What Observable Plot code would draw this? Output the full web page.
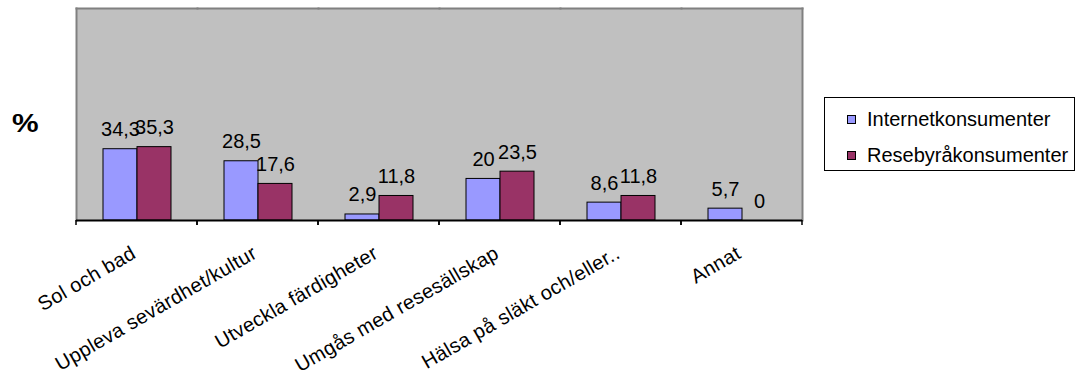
<!DOCTYPE html>
<html>
<head>
<meta charset="utf-8">
<script src="https://cdn.jsdelivr.net/npm/d3@7"></script>
<script src="https://cdn.jsdelivr.net/npm/@observablehq/plot@0.6"></script>
<style>
  body { margin: 0; background: #fff; font-family: "Liberation Sans", Arial, sans-serif; }
  #chart { position: relative; width: 1076px; height: 375px; }
  #ytitle { position: absolute; left: 12px; top: 108px; font-size: 26px; font-weight: bold; color: #000; transform: scaleX(1.15); transform-origin: left top; }
  #legend { position: absolute; left: 824px; top: 97px; width: 249px; height: 72px; border: 1px solid #000; background: #fff; box-sizing: content-box; }
  #legend .item { position: absolute; left: 22px; display: flex; align-items: center; font-size: 20px; color: #000; white-space: nowrap; }
  #legend .sw { width: 7px; height: 7px; border: 1px solid #000; margin-right: 11px; }
  #chart svg g[aria-label="fx-axis tick label"] text { letter-spacing: 0.3px; }
</style>
</head>
<body>
<div id="chart"></div>
<script>
// Reasons for travelling, share of respondents (%)
const categories = [
  "Sol och bad",
  "Uppleva sevärdhet/kultur",
  "Utveckla färdigheter",
  "Umgås med resesällskap",
  "Hälsa på släkt och/eller..",
  "Annat"
];
const seriesNames = ["Internetkonsumenter", "Resebyråkonsumenter"];
const internetValues = [34.3, 28.5, 2.9, 20, 8.6, 5.7];
const resebyraValues = [35.3, 17.6, 11.8, 23.5, 11.8, 0];
const seriesColors = ["#9999ff", "#993366"];

const rows = categories.flatMap((category, i) => [
  {category, series: seriesNames[0], value: internetValues[i]},
  {category, series: seriesNames[1], value: resebyraValues[i]}
]);

const fmt = (v) => String(v).replace(".", ",");

// short tick marks at the edges of each category band, below the axis line
function bandEdgeTicks(index, scales, values, dims) {
  const {width, height, marginLeft, marginRight, marginBottom} = dims;
  const y0 = height - marginBottom;
  const g = d3.create("svg:g").attr("stroke", "#000").attr("stroke-width", 1.5);
  for (const x of [marginLeft, width - marginRight]) {
    g.append("line").attr("x1", x).attr("x2", x).attr("y1", y0).attr("y2", y0 + 5);
  }
  return g.node();
}

const plot = Plot.plot({
  width: 1076,
  height: 375,
  marginLeft: 76,
  marginRight: 274,
  marginTop: 8,
  marginBottom: 155,
  style: {fontFamily: "'Liberation Sans', Arial, sans-serif", background: "transparent", color: "#000"},
  fx: {domain: categories, padding: 0, axis: null, label: null},
  x: {domain: seriesNames, paddingInner: 0, paddingOuter: 0.73, axis: null},
  y: {domain: [0, 102], axis: null},
  color: {domain: seriesNames, range: seriesColors},
  marks: [
    Plot.frame({fill: "#c0c0c0", stroke: "#c0c0c0", strokeWidth: 1}),
    Plot.frame({anchor: "top", stroke: "#808080", strokeWidth: 2}),
    Plot.frame({anchor: "left", stroke: "#808080", strokeWidth: 2, facetAnchor: "left"}),
    Plot.frame({anchor: "right", stroke: "#808080", strokeWidth: 2, facetAnchor: "right"}),
    Plot.barY(rows, {fx: "category", x: "series", y: "value", fill: "series", stroke: "#000", strokeWidth: 1}),
    Plot.ruleY([0], {stroke: "#000", strokeWidth: 2}),
    bandEdgeTicks,
    Plot.text(rows, {fx: "category", x: "series", y: "value", text: (d) => fmt(d.value), lineAnchor: "bottom", dy: -13, fontSize: 20, fill: "#000"}),
    Plot.axisFx({anchor: "bottom", tickSize: 0, tickPadding: 31, tickRotate: -30, fontSize: 20, label: null, dx: -3})
  ]
});

const chart = document.getElementById("chart");
chart.appendChild(plot);

const ytitle = document.createElement("div");
ytitle.id = "ytitle";
ytitle.textContent = "%";
chart.appendChild(ytitle);

const legend = document.createElement("div");
legend.id = "legend";
seriesNames.forEach((name, i) => {
  const item = document.createElement("div");
  item.className = "item";
  item.style.top = (i === 0 ? 10 : 46) + "px";
  const sw = document.createElement("span");
  sw.className = "sw";
  sw.style.background = seriesColors[i];
  const label = document.createElement("span");
  label.textContent = name;
  item.append(sw, label);
  legend.appendChild(item);
});
chart.appendChild(legend);
</script>
</body>
</html>
